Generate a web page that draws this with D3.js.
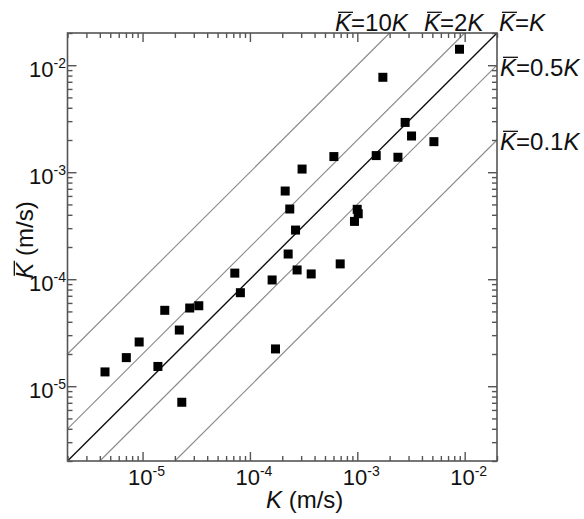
<!DOCTYPE html>
<html>
<head>
<meta charset="utf-8">
<script src="https://cdn.jsdelivr.net/npm/d3@7"></script>
<style>
  body { margin: 0; background: #fff; }
  text { font-family: "Liberation Sans", Arial, sans-serif; fill: #111; }
</style>
</head>
<body>
<div id="chart"></div>
<script>
const width = 584;
const height = 519;

// measured K and K-bar (m/s)
const kValues = [4.47e-6, 7.06e-6, 9.3e-6, 1.39e-5, 1.61e-5, 2.2e-5, 2.75e-5, 3.34e-5, 2.32e-5,
  7.23e-5, 8.15e-5, 1.61e-4, 1.73e-4, 8.95e-3, 1.73e-3, 2.79e-3, 3.2e-3, 5.17e-3,
  6.05e-4, 1.5e-3, 2.39e-3, 3.06e-4, 2.13e-4, 2.35e-4, 9.98e-4, 1.02e-3, 9.41e-4,
  2.66e-4, 2.27e-4, 2.75e-4, 3.72e-4, 6.93e-4];
const kbarValues = [1.36e-5, 1.85e-5, 2.59e-5, 1.53e-5, 5.12e-5, 3.35e-5, 5.38e-5, 5.65e-5, 7.08e-6,
  1.14e-4, 7.48e-5, 9.84e-5, 2.23e-5, 1.41e-2, 7.71e-3, 2.92e-3, 2.18e-3, 1.93e-3,
  1.4e-3, 1.43e-3, 1.38e-3, 1.07e-3, 6.67e-4, 4.53e-4, 4.5e-4, 4.09e-4, 3.47e-4,
  2.88e-4, 1.72e-4, 1.22e-4, 1.12e-4, 1.39e-4];

// reference lines K-bar = c K
const ratios = [10, 2, 1, 0.5, 0.1];
const ratioText = ['10', '2', '', '0.5', '0.1'];
const ratioLabelPos = [[335, 31], [424, 31], [499, 31], [500, 76], [500, 150]];

// tick labels (exponents)
const tickExps = [-5, -4, -3, -2];

let svg = d3.select('#chart').append('svg')
  .attr('width', width)
  .attr('height', height);

let x = d3.scaleLog().domain([2e-6, 2e-2]).range([67.5, 497]);
let y = d3.scaleLog().domain([2e-6, 2e-2]).range([461, 33]);

// 参考线
ratios.forEach(function(c) {
  let k0 = Math.max(2e-6, 2e-6 / c);
  let k1 = Math.min(2e-2, 2e-2 / c);
  svg.append('line')
    .attr('x1', x(k0)).attr('y1', y(k0 * c))
    .attr('x2', x(k1)).attr('y2', y(k1 * c))
    .style('stroke', c === 1 ? '#111' : '#8a8a8a')
    .style('stroke-width', c === 1 ? 1.4 : 1.1);
});

// ticks on all four sides, pointing inward
let allTicks = x.ticks();
let majors = allTicks.filter(d => Math.abs(Math.log10(d) - Math.round(Math.log10(d))) < 1e-9);
let minors = allTicks.filter(d => majors.indexOf(d) < 0);

function drawTicks(axisFn, scale, tx, ty) {
  [[minors, 5], [majors, 9]].forEach(function(p) {
    let g = svg.append('g').attr('transform', 'translate(' + tx + ',' + ty + ')');
    g.call(axisFn(scale).tickValues(p[0]).tickSizeInner(-p[1]).tickSizeOuter(0).tickFormat(''));
    g.select('.domain').remove();
    g.selectAll('line').style('stroke', '#555').style('stroke-width', 1.4);
  });
}
drawTicks(d3.axisBottom, x, 0, 461);
drawTicks(d3.axisTop, x, 0, 33);
drawTicks(d3.axisLeft, y, 67.5, 0);
drawTicks(d3.axisRight, y, 497, 0);

// frame
svg.append('rect')
  .attr('x', 67.5).attr('y', 33)
  .attr('width', 429.5).attr('height', 428)
  .style('fill', 'none')
  .style('stroke', '#555')
  .style('stroke-width', 1.6);

// points
svg.selectAll('rect.pt')
  .data(kValues)
  .enter().append('rect')
  .attr('class', 'pt')
  .attr('x', (d, i) => x(d) - 4.5)
  .attr('y', (d, i) => y(kbarValues[i]) - 4.5)
  .attr('width', 9)
  .attr('height', 9)
  .style('fill', '#000');

// tick labels 10^n
tickExps.forEach(function(e) {
  let t = svg.append('text')
    .attr('x', x(Math.pow(10, e)) + 4)
    .attr('y', 485)
    .attr('text-anchor', 'middle')
    .style('font-size', '22px');
  t.append('tspan').text('10');
  t.append('tspan').attr('dy', -9).style('font-size', '14px').text(e);

  let t2 = svg.append('text')
    .attr('x', 66)
    .attr('y', y(Math.pow(10, e)) + 12)
    .attr('text-anchor', 'end')
    .style('font-size', '22px');
  t2.append('tspan').text('10');
  t2.append('tspan').attr('dy', -9).style('font-size', '14px').text(e);
});

// 在 K 上画一条横线
function overbar(parent, textNode, idx, fs) {
  let b = textNode.getExtentOfChar(idx);
  let base = b.y + b.height * 0.905;
  parent.append('line')
    .attr('x1', b.x + 3).attr('x2', b.x + b.width + 2)
    .attr('y1', base - fs * 0.88).attr('y2', base - fs * 0.88)
    .style('stroke', '#111')
    .style('stroke-width', 1.3);
}

// line labels
ratios.forEach(function(c, i) {
  let t = svg.append('text')
    .attr('x', ratioLabelPos[i][0])
    .attr('y', ratioLabelPos[i][1])
    .style('font-size', '24px');
  t.append('tspan').style('font-style', 'italic').text('K');
  t.append('tspan').text('=' + ratioText[i]);
  t.append('tspan').style('font-style', 'italic').text('K');
  overbar(svg, t.node(), 0, 24);
});

// axis titles
let xt = svg.append('text')
  .attr('x', 266)
  .attr('y', 508)
  .style('font-size', '24px');
xt.append('tspan').style('font-style', 'italic').text('K');
xt.append('tspan').text(' (m/s)');

let yg = svg.append('g').attr('transform', 'translate(33, 240) rotate(-90)');
let yt = yg.append('text')
  .attr('x', 0)
  .attr('y', 0)
  .attr('text-anchor', 'middle')
  .style('font-size', '24px');
yt.append('tspan').style('font-style', 'italic').text('K');
yt.append('tspan').text(' (m/s)');
overbar(yg, yt.node(), 0, 24);
</script>
</body>
</html>
